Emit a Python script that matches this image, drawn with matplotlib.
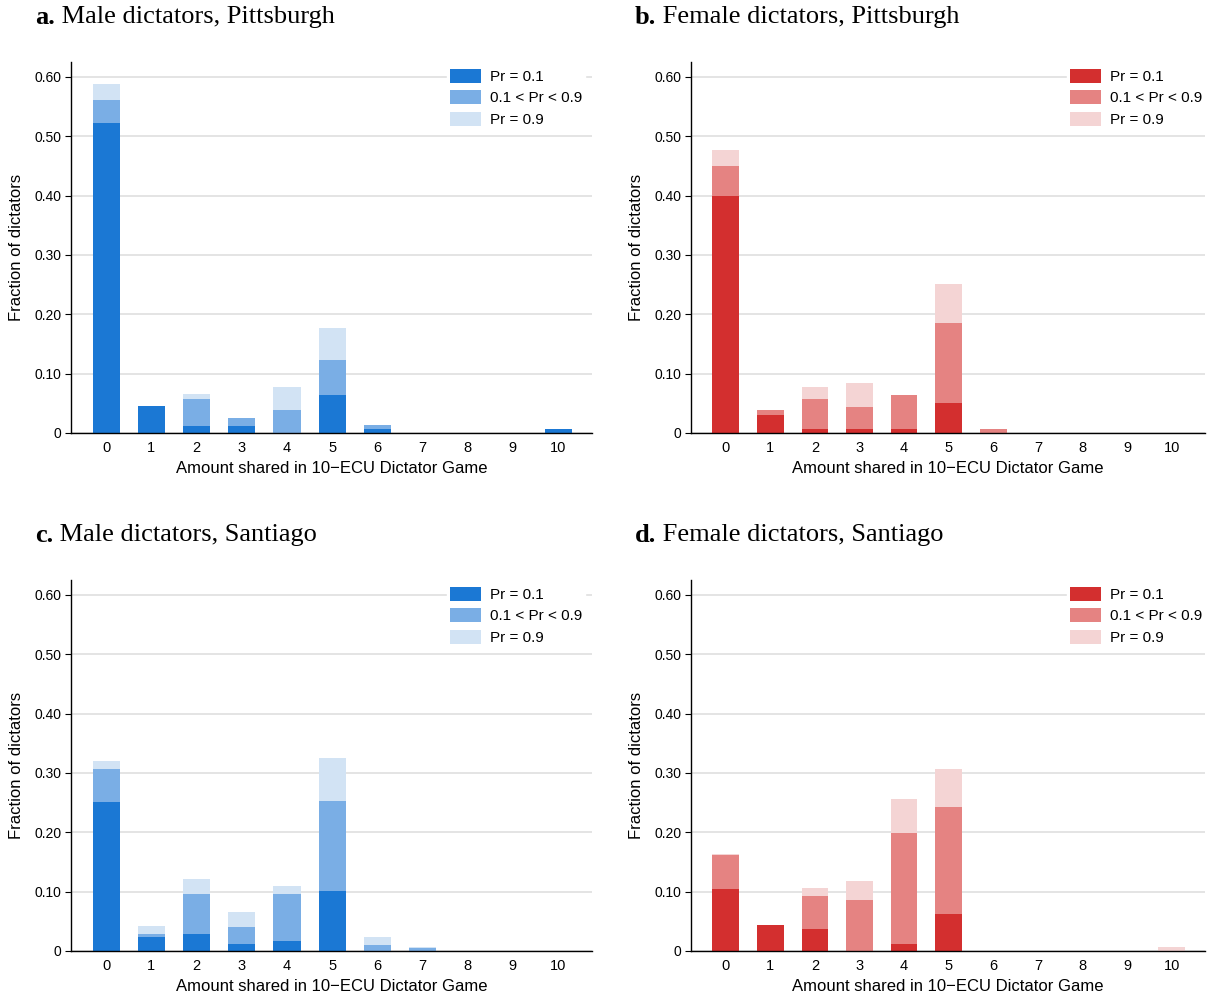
import numpy as np
import matplotlib
matplotlib.use("Agg")
import matplotlib.pyplot as plt

# amounts shared (0..10 ECU)
amounts = np.arange(11)
tick_labels = [str(a) for a in amounts]
legend_labels = ["Pr = 0.1", "0.1 < Pr < 0.9", "Pr = 0.9"]

# fractions of dictators by belief group (Pr = 0.1 / 0.1<Pr<0.9 / Pr = 0.9)
male_pitt_low = [0.522, 0.046, 0.012, 0.012, 0.0, 0.064, 0.006, 0, 0, 0, 0.006]
male_pitt_mid = [0.039, 0.0, 0.046, 0.014, 0.038, 0.059, 0.007, 0, 0, 0, 0.0]
male_pitt_high = [0.027, 0.0, 0.007, 0.0, 0.040, 0.054, 0.0, 0, 0, 0, 0.0]

female_pitt_low = [0.399, 0.031, 0.006, 0.006, 0.006, 0.051, 0.0, 0, 0, 0, 0]
female_pitt_mid = [0.051, 0.007, 0.052, 0.038, 0.058, 0.135, 0.006, 0, 0, 0, 0]
female_pitt_high = [0.027, 0.001, 0.020, 0.041, 0.0, 0.065, 0.0, 0, 0, 0, 0]

male_sant_low = [0.251, 0.024, 0.029, 0.012, 0.017, 0.101, 0.0, 0.0, 0, 0, 0]
male_sant_mid = [0.056, 0.005, 0.067, 0.029, 0.079, 0.151, 0.010, 0.005, 0, 0, 0]
male_sant_high = [0.013, 0.013, 0.025, 0.025, 0.013, 0.073, 0.014, 0.002, 0, 0, 0]

female_sant_low = [0.104, 0.044, 0.037, 0.0, 0.012, 0.062, 0, 0, 0, 0, 0.0]
female_sant_mid = [0.058, 0.0, 0.056, 0.086, 0.187, 0.181, 0, 0, 0, 0, 0.0]
female_sant_high = [0.001, 0.0, 0.013, 0.032, 0.057, 0.064, 0, 0, 0, 0, 0.007]

blues = ["#1b78d4", "#7aaee5", "#d2e3f4"]
reds = ["#d32f2f", "#e58382", "#f4d4d4"]

panels = [
    ("a.", " Male dictators, Pittsburgh", male_pitt_low, male_pitt_mid, male_pitt_high, blues),
    ("b.", " Female dictators, Pittsburgh", female_pitt_low, female_pitt_mid, female_pitt_high, reds),
    ("c.", " Male dictators, Santiago", male_sant_low, male_sant_mid, male_sant_high, blues),
    ("d.", " Female dictators, Santiago", female_sant_low, female_sant_mid, female_sant_high, reds),
]

W, H = 1207, 998
fig = plt.figure(figsize=(W / 100, H / 100), dpi=100)
plt.rcParams["font.family"] = "Liberation Sans"

# axes boxes in pixels: left, right, top, bottom
boxes = [(71, 592, 62, 433), (691, 1205, 62, 433),
         (71, 592, 580, 951), (691, 1205, 580, 951)]
title_pos = [(35, 17), (635, 17), (35, 535), (635, 535)]

fig.canvas.draw()
renderer = fig.canvas.get_renderer()

for (tag, title, low, mid, high, cols), (l, r, t, b), (tx, ty) in zip(panels, boxes, title_pos):
    ax = fig.add_axes([l / W, 1 - b / H, (r - l) / W, (b - t) / H])
    low = np.array(low)
    mid = np.array(mid)
    high = np.array(high)
    ax.bar(amounts, low, width=0.6, color=cols[0], label=legend_labels[0], zorder=2)
    ax.bar(amounts, mid, width=0.6, bottom=low, color=cols[1], label=legend_labels[1], zorder=2)
    ax.bar(amounts, high, width=0.6, bottom=low + mid, color=cols[2], label=legend_labels[2], zorder=2)

    ax.set_xlim(-0.78, 10.75)
    ax.set_ylim(0, 0.625)
    ax.set_yticks(np.arange(0, 0.61, 0.1))
    ax.set_yticklabels(["0"] + ["%.2f" % v for v in np.arange(0.1, 0.61, 0.1)], fontsize=10)
    ax.set_xticks(amounts)
    ax.set_xticklabels(tick_labels, fontsize=10.5)
    ax.tick_params(axis="x", length=0, pad=6)
    ax.tick_params(axis="y", length=4, width=0.8, pad=3)
    ax.grid(axis="y", color="#e2e2e2", linewidth=1.3, zorder=0)
    ax.set_axisbelow(True)
    for s in ["top", "right"]:
        ax.spines[s].set_visible(False)
    for s in ["left", "bottom"]:
        ax.spines[s].set_linewidth(1.0)
    ax.set_xlabel("Amount shared in 10\u2212ECU Dictator Game", fontsize=12, labelpad=4)
    ax.set_ylabel("Fraction of dictators", fontsize=12, labelpad=7)

    leg = ax.legend(loc="upper left", bbox_to_anchor=(376 / (r - l), 0.99),
                    frameon=True, fontsize=11, handlelength=2.0, handleheight=1.05,
                    handletextpad=0.6, labelspacing=0.4, borderpad=0.2, borderaxespad=0)
    leg.get_frame().set_edgecolor("white")
    leg.get_frame().set_facecolor("white")
    leg.get_frame().set_alpha(1)

    bold = fig.text(tx / W, 1 - ty / H, tag, fontsize=19, fontweight="bold",
                    family="Liberation Serif", va="center", ha="left")
    ext = bold.get_window_extent(renderer=renderer)
    fig.text(ext.x1 / W, 1 - ty / H, title, fontsize=19, family="Liberation Serif",
             va="center", ha="left")

fig.savefig("out.png", dpi=100)
